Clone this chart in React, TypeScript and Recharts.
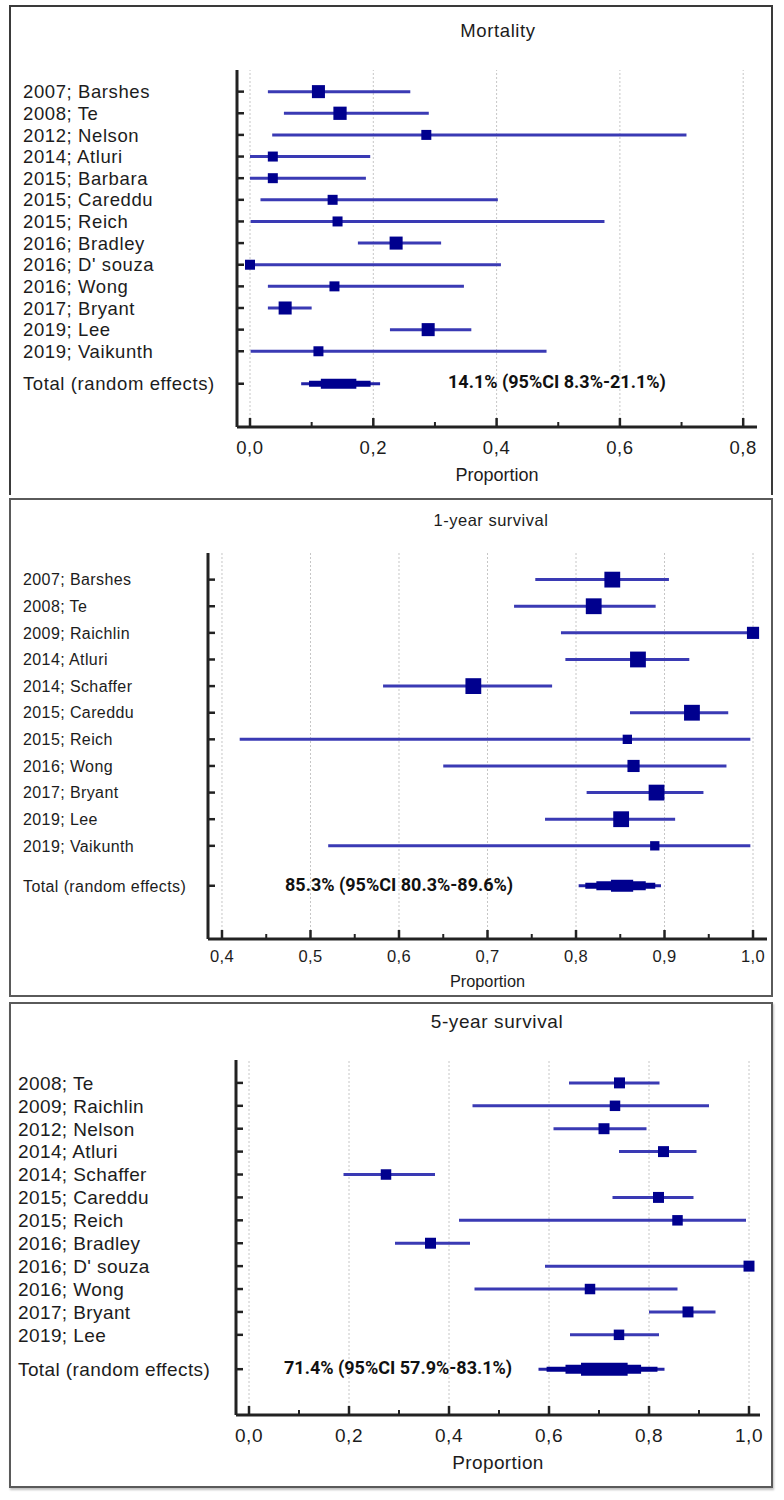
import React from 'react';
import { ScatterChart, Scatter, XAxis, YAxis, ZAxis, ErrorBar, ReferenceLine } from 'recharts';

// ---------------- Data ----------------
const mortalityStudies = ['2007; Barshes', '2008; Te', '2012; Nelson', '2014; Atluri', '2015; Barbara', '2015; Careddu', '2015; Reich', '2016; Bradley', "2016; D' souza", '2016; Wong', '2017; Bryant', '2019; Lee', '2019; Vaikunth'];
const mortalityEst = [0.111, 0.146, 0.286, 0.037, 0.037, 0.134, 0.142, 0.237, 0.0, 0.137, 0.057, 0.289, 0.111];
const mortalityLow = [0.029, 0.055, 0.036, 0.0, 0.0, 0.017, 0.001, 0.175, 0.0, 0.029, 0.029, 0.227, 0.001];
const mortalityHigh = [0.26, 0.29, 0.708, 0.195, 0.188, 0.402, 0.575, 0.31, 0.407, 0.347, 0.1, 0.359, 0.481];
const mortalityWeight = [8.5, 8.8, 5, 5, 5, 5, 5, 8.5, 5, 5, 8.5, 8.5, 5];
const mortalityTotal = [0.141, 0.083, 0.211];
const mortalityMajor = [0, 0.2, 0.4, 0.6, 0.8];
const mortalityMinor = [0.1, 0.3, 0.5, 0.7];

const oneYearStudies = ['2007; Barshes', '2008; Te', '2009; Raichlin', '2014; Atluri', '2014; Schaffer', '2015; Careddu', '2015; Reich', '2016; Wong', '2017; Bryant', '2019; Lee', '2019; Vaikunth'];
const oneYearEst = [0.841, 0.82, 1.0, 0.87, 0.684, 0.931, 0.858, 0.865, 0.891, 0.851, 0.889];
const oneYearLow = [0.754, 0.73, 0.783, 0.788, 0.582, 0.861, 0.42, 0.65, 0.812, 0.765, 0.52];
const oneYearHigh = [0.905, 0.89, 1.0, 0.928, 0.773, 0.972, 0.997, 0.97, 0.944, 0.912, 0.997];
const oneYearWeight = [11.5, 11.5, 6.8, 11.5, 11.5, 11.5, 4, 6.8, 11.5, 11.5, 4];
const oneYearTotal = [0.853, 0.803, 0.896];
const oneYearMajor = [0.4, 0.5, 0.6, 0.7, 0.8, 0.9, 1.0];
const oneYearMinor = [0.45, 0.55, 0.65, 0.75, 0.85, 0.95];

const fiveYearStudies = ['2008; Te', '2009; Raichlin', '2012; Nelson', '2014; Atluri', '2014; Schaffer', '2015; Careddu', '2015; Reich', '2016; Bradley', "2016; D' souza", '2016; Wong', '2017; Bryant', '2019; Lee'];
const fiveYearEst = [0.741, 0.732, 0.71, 0.829, 0.274, 0.819, 0.857, 0.363, 1.0, 0.682, 0.878, 0.74];
const fiveYearLow = [0.64, 0.447, 0.609, 0.74, 0.189, 0.727, 0.42, 0.292, 0.592, 0.451, 0.8, 0.642];
const fiveYearHigh = [0.821, 0.92, 0.795, 0.895, 0.372, 0.889, 0.994, 0.442, 1.0, 0.857, 0.933, 0.82];
const fiveYearWeight = [8.3, 7.6, 8.3, 8.3, 7.6, 8.3, 7.6, 8.3, 8.3, 7.6, 8.3, 7.6];
const fiveYearTotal = [0.714, 0.579, 0.831];
const fiveYearMajor = [0, 0.2, 0.4, 0.6, 0.8, 1.0];
const fiveYearMinor = [0.1, 0.3, 0.5, 0.7, 0.9];

// ---------------- Styles ----------------
const FONT = "'Liberation Sans', Arial, Helvetica, sans-serif";
const LINE_BLUE = '#3a3ab4';
const SQUARE_BLUE = '#00008e';
const AXIS = '#222222';
const TEXT = '#1c1c1c';

const fmt = (v: number) => v.toFixed(1).replace('.', ',');

type Level = { f: number; sw: number; color: string };

type Cfg = {
  title: string;
  studies: string[];
  est: number[];
  lo: number[];
  hi: number[];
  weights: number[];
  total: number[];
  majors: number[];
  minors: number[];
  statText: string;
  top: number;
  height: number;
  plotTop: number;
  plotBottom: number;
  axisX: number;
  plotRight: number;
  domain: [number, number];
  labelX: number;
  labelSize: number;
  labelLs: number;
  tickFont: number;
  tickLs: number;
  tickLabelOffset: number;
  propSize: number;
  propLs: number;
  propOffset: number;
  maxArea: number;
  levels: Level[];
  titleX: number;
  titleY: number;
  titleSize: number;
  titleLs: number;
  statX: number;
  statY: number;
};

function Forest({ cfg }: { cfg: Cfg }) {
  const n = cfg.studies.length;
  const rows = cfg.studies.map((label, i) => ({
    label,
    x: cfg.est[i],
    y: i,
    w: cfg.weights[i],
    ci: [cfg.est[i] - cfg.lo[i], cfg.hi[i] - cfg.est[i]],
  }));
  const totalY = n + 0.5;
  const [tEst, tLo, tHi] = cfg.total;
  const totalRow: any = { x: tEst, y: totalY, w: 0 };
  cfg.levels.forEach((l, k) => {
    totalRow['t' + k] = [l.f * (tEst - tLo), l.f * (tHi - tEst)];
  });
  const yTicks = [...rows.map((r) => r.y), totalY];
  const labelOf = (v: number) => (Math.abs(v - totalY) < 1e-6 ? 'Total (random effects)' : cfg.studies[Math.round(v)]);
  const allX = [...cfg.majors, ...cfg.minors].sort((a, b) => a - b);
  const isMajor = (v: number) => cfg.majors.some((m) => Math.abs(m - v) < 1e-6);

  const YTick = (p: any) => (
    <g>
      <line x1={p.x} x2={p.x + 7} y1={p.y} y2={p.y} stroke={AXIS} strokeWidth={2.5} />
      <text
        x={cfg.labelX}
        y={p.y}
        dy="0.36em"
        textAnchor="start"
        fontFamily={FONT}
        fontSize={cfg.labelSize}
        letterSpacing={cfg.labelLs}
        fill={TEXT}
      >
        {labelOf(p.payload.value)}
      </text>
    </g>
  );

  const XTick = (p: any) => {
    const major = isMajor(p.payload.value);
    return (
      <g>
        <line x1={p.x} x2={p.x} y1={p.y} y2={p.y - (major ? 9 : 5)} stroke={AXIS} strokeWidth={major ? 2.5 : 2} />
        {major && (
          <text
            x={p.x}
            y={p.y + cfg.tickLabelOffset}
            dy="0.36em"
            textAnchor="middle"
            fontFamily={FONT}
            fontSize={cfg.tickFont}
            letterSpacing={cfg.tickLs}
            fill={TEXT}
          >
            {fmt(p.payload.value)}
          </text>
        )}
      </g>
    );
  };

  return (
    <div style={{ position: 'absolute', left: 0, top: cfg.top, width: 784, height: cfg.height }}>
      <ScatterChart
        width={784}
        height={cfg.height}
        margin={{ top: cfg.plotTop, right: 784 - cfg.plotRight, bottom: 0, left: 0 }}
      >
        <XAxis
          type="number"
          dataKey="x"
          domain={cfg.domain}
          allowDataOverflow
          ticks={allX}
          interval={0}
          tickSize={0}
          tickMargin={0}
          tickLine={false}
          axisLine={{ stroke: AXIS, strokeWidth: 3 }}
          height={cfg.height - cfg.plotBottom}
          tick={XTick}
          label={{
            value: 'Proportion',
            position: 'insideBottom',
            offset: cfg.propOffset,
            fill: TEXT,
            fontSize: cfg.propSize,
            fontFamily: FONT,
            letterSpacing: cfg.propLs,
          }}
        />
        <YAxis
          type="number"
          dataKey="y"
          domain={[-1, n + 2.5]}
          reversed
          allowDataOverflow
          ticks={yTicks}
          interval={0}
          tickSize={0}
          tickMargin={0}
          tickLine={false}
          axisLine={{ stroke: AXIS, strokeWidth: 3 }}
          width={cfg.axisX}
          tick={YTick}
        />
        <ZAxis type="number" dataKey="w" domain={[0, 10]} range={[0, cfg.maxArea]} />
        {cfg.majors.map((v) => (
          <ReferenceLine key={v} x={v} stroke="#c6c6c6" strokeDasharray="2 2" strokeWidth={1} />
        ))}
        <Scatter data={rows} fill={SQUARE_BLUE} shape="square" isAnimationActive={false}>
          <ErrorBar dataKey="ci" direction="x" width={0} stroke={LINE_BLUE} strokeWidth={3} isAnimationActive={false} />
        </Scatter>
        <Scatter data={[totalRow]} shape={() => <g />} isAnimationActive={false}>
          {cfg.levels.map((l, k) => (
            <ErrorBar
              key={k}
              dataKey={'t' + k}
              direction="x"
              width={0}
              stroke={l.color}
              strokeWidth={l.sw}
              isAnimationActive={false}
            />
          ))}
        </Scatter>
      </ScatterChart>
      <div
        style={{
          position: 'absolute',
          left: cfg.titleX - 150,
          width: 300,
          top: cfg.titleY - cfg.top - 12,
          height: 24,
          lineHeight: '24px',
          textAlign: 'center',
          fontFamily: FONT,
          fontSize: cfg.titleSize,
          letterSpacing: cfg.titleLs,
          color: TEXT,
          whiteSpace: 'nowrap',
        }}
      >
        {cfg.title}
      </div>
      <div
        style={{
          position: 'absolute',
          left: cfg.statX,
          top: cfg.statY - cfg.top - 12,
          height: 24,
          lineHeight: '24px',
          fontFamily: "Roboto, 'Liberation Sans', sans-serif",
          fontWeight: 700,
          fontSize: 18,
          color: '#111',
          whiteSpace: 'nowrap',
        }}
      >
        {cfg.statText}
      </div>
    </div>
  );
}

const p1: Cfg = {
  title: 'Mortality',
  studies: mortalityStudies,
  est: mortalityEst,
  lo: mortalityLow,
  hi: mortalityHigh,
  weights: mortalityWeight,
  total: mortalityTotal,
  majors: mortalityMajor,
  minors: mortalityMinor,
  statText: '14.1% (95%CI 8.3%-21.1%)',
  top: 0,
  height: 500,
  plotTop: 70,
  plotBottom: 427,
  axisX: 237,
  plotRight: 757,
  domain: [-0.0211, 0.8224],
  labelX: 23,
  labelSize: 18.5,
  labelLs: 0.6,
  tickFont: 18.5,
  tickLs: 0.6,
  tickLabelOffset: 20,
  propSize: 18,
  propLs: 0,
  propOffset: 19,
  maxArea: 200,
  levels: [
    { f: 1, sw: 3, color: '#2323a6' },
    { f: 0.78, sw: 6, color: SQUARE_BLUE },
    { f: 0.45, sw: 10, color: SQUARE_BLUE },
  ],
  titleX: 498,
  titleY: 31,
  titleSize: 18.5,
  titleLs: 0.6,
  statX: 448,
  statY: 382,
};

const p2: Cfg = {
  title: '1-year survival',
  studies: oneYearStudies,
  est: oneYearEst,
  lo: oneYearLow,
  hi: oneYearHigh,
  weights: oneYearWeight,
  total: oneYearTotal,
  majors: oneYearMajor,
  minors: oneYearMinor,
  statText: '85.3% (95%CI 80.3%-89.6%)',
  top: 498,
  height: 500,
  plotTop: 55,
  plotBottom: 441,
  axisX: 208,
  plotRight: 767,
  domain: [0.3842, 1.0158],
  labelX: 23,
  labelSize: 16,
  labelLs: 0.4,
  tickFont: 16.5,
  tickLs: 0.4,
  tickLabelOffset: 17,
  propSize: 16.3,
  propLs: 0,
  propOffset: 11,
  maxArea: 250,
  levels: [
    { f: 1, sw: 3, color: '#2323a6' },
    { f: 0.85, sw: 6, color: SQUARE_BLUE },
    { f: 0.6, sw: 9, color: SQUARE_BLUE },
    { f: 0.27, sw: 12, color: SQUARE_BLUE },
  ],
  titleX: 491,
  titleY: 520,
  titleSize: 16.5,
  titleLs: 0.5,
  statX: 285,
  statY: 885,
};

const p3: Cfg = {
  title: '5-year survival',
  studies: fiveYearStudies,
  est: fiveYearEst,
  lo: fiveYearLow,
  hi: fiveYearHigh,
  weights: fiveYearWeight,
  total: fiveYearTotal,
  majors: fiveYearMajor,
  minors: fiveYearMinor,
  statText: '71.4% (95%CI 57.9%-83.1%)',
  top: 1000,
  height: 490,
  plotTop: 60,
  plotBottom: 415,
  axisX: 236,
  plotRight: 760,
  domain: [-0.026, 1.022],
  labelX: 18,
  labelSize: 19,
  labelLs: 0.4,
  tickFont: 19,
  tickLs: 0.5,
  tickLabelOffset: 20,
  propSize: 19,
  propLs: 0.4,
  propOffset: 21.5,
  maxArea: 145,
  levels: [
    { f: 1, sw: 3, color: '#2323a6' },
    { f: 0.88, sw: 5, color: SQUARE_BLUE },
    { f: 0.6, sw: 9, color: SQUARE_BLUE },
    { f: 0.37, sw: 13, color: SQUARE_BLUE },
  ],
  titleX: 497,
  titleY: 1022,
  titleSize: 19,
  titleLs: 0.6,
  statX: 284,
  statY: 1368,
};

export default function App() {
  return (
    <div style={{ position: 'absolute', left: 0, top: 0, width: 784, height: 1500, background: '#fff', overflow: 'hidden' }}>
      <div
        style={{
          position: 'absolute',
          left: 9,
          top: 5,
          width: 764,
          height: 490,
          boxSizing: 'border-box',
          borderTop: '2px solid #3a3a3a',
          borderLeft: '2px solid #3a3a3a',
          borderRight: '2px solid #3a3a3a',
        }}
      />
      <div
        style={{
          position: 'absolute',
          left: 9,
          top: 498,
          width: 764,
          height: 499,
          boxSizing: 'border-box',
          border: '2px solid #5a5a5a',
        }}
      />
      <div
        style={{
          position: 'absolute',
          left: 9,
          top: 1002,
          width: 764,
          height: 486,
          boxSizing: 'border-box',
          border: '2px solid #5a5a5a',
          boxShadow: '1px 2px 2px rgba(0,0,0,0.25)',
        }}
      />
      <Forest cfg={p1} />
      <Forest cfg={p2} />
      <Forest cfg={p3} />
    </div>
  );
}
